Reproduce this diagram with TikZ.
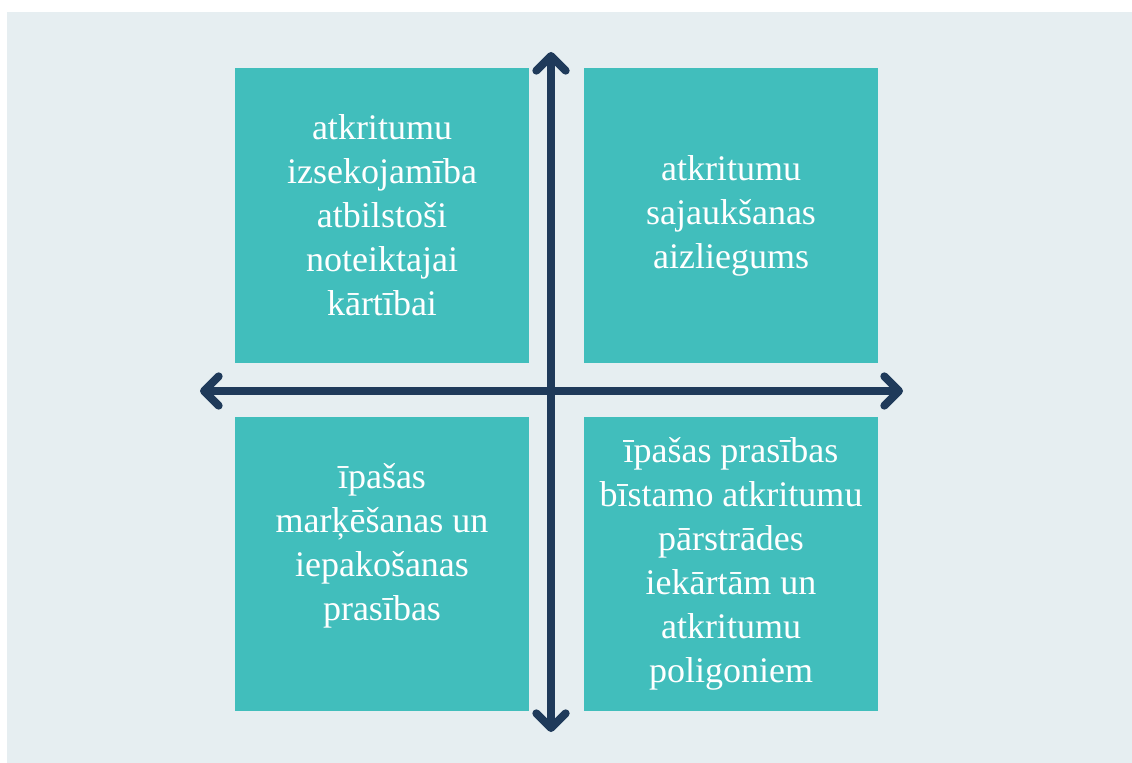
\documentclass[tikz,border=0pt]{standalone}
\usepackage{fontspec}
\setmainfont{Liberation Serif}
\usetikzlibrary{arrows.meta}

\definecolor{bgpanel}{HTML}{E6EEF1}
\definecolor{quadteal}{HTML}{41BEBC}
\definecolor{axisnavy}{HTML}{1F3A5A}

\begin{document}
\begin{tikzpicture}[x=0.75pt,y=-0.75pt,
  >={Straight Barb[length=11pt,width=22pt,line cap=round,line join=round]},
  quad node/.style={rectangle,fill=quadteal,minimum width=220.5pt,minimum height=220.5pt,
    inner sep=0pt,align=center,text=white,font=\fontsize{27}{33}\selectfont},
  axis/.style={<->,draw=axisnavy,line width=6pt}]

  \useasboundingbox (0,0) rectangle (1132,763);
  \fill[bgpanel] (7,12) rectangle (1132,763);

  \node[quad node] (tl) at (382,215.5) {atkritumu\\izsekojamība\\atbilstoši\\noteiktajai\\kārtībai};
  \node[quad node] (tr) at (731,215.5) {atkritumu\\sajaukšanas\\aizliegums};
  \node[quad node] (bl) at (382,564) {īpašas\\marķēšanas un\\iepakošanas\\prasības\\\mbox{}};
  \node[quad node] (br) at (731,564) {īpašas prasības\\bīstamo atkritumu\\pārstrādes\\iekārtām un\\atkritumu\\poligoniem};

  \coordinate (west) at (200,391);
  \coordinate (east) at (903,391);
  \coordinate (north) at (551,52);
  \coordinate (south) at (551,732);

  \draw[axis] (west) -- (east);
  \draw[axis] (north) -- (south);

\end{tikzpicture}
\end{document}
